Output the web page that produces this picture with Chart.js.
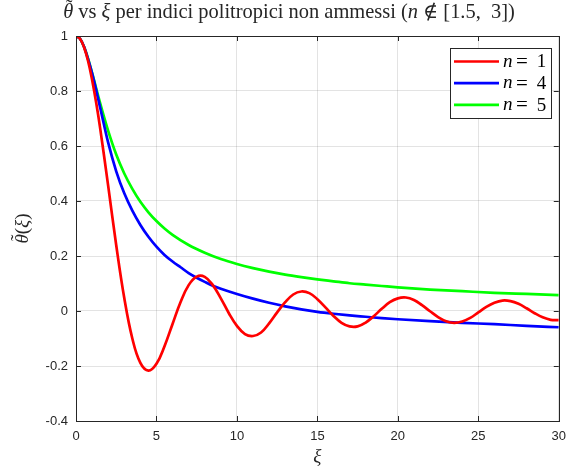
<!DOCTYPE html>
<html lang="it">
<head>
<meta charset="UTF-8">
<title>theta vs xi</title>
<script src="https://cdn.jsdelivr.net/npm/chart.js@4.4.0/dist/chart.umd.js"></script>
<style>
  html, body { margin: 0; padding: 0; background: #ffffff; }
  #wrap { width: 574px; height: 468px; position: relative; }
</style>
</head>
<body>
<div id="wrap"><canvas id="chart"></canvas></div>
<script>
// n = 1
const xi1 = [0, 0.25, 0.5, 0.75, 1, 1.25, 1.5, 2, 2.5, 3, 3.5, 4, 4.5, 5, 5.5, 6, 6.5, 7, 7.5, 8, 8.5, 9, 9.5,
  10, 10.5, 11, 11.5, 12, 12.5, 13, 13.5, 14, 14.5, 15, 15.5, 16, 16.5, 17, 17.5, 18, 18.5, 19, 19.5,
  20, 20.5, 21, 21.5, 22, 22.5, 23, 23.5, 24, 24.5, 25, 25.5, 26, 26.5, 27, 27.5, 28, 28.5, 29, 29.5, 30];
const theta1 = [1, 0.990, 0.959, 0.909, 0.841, 0.759, 0.665, 0.455, 0.239, 0.047, -0.100, -0.189, -0.217, -0.192, -0.128, -0.047, 0.033, 0.094, 0.125, 0.124, 0.094, 0.046, -0.008,
  -0.054, -0.084, -0.091, -0.078, -0.045, -0.005, 0.032, 0.060, 0.071, 0.065, 0.043, 0.013, -0.018, -0.043, -0.056, -0.056, -0.042, -0.019, 0.008, 0.032,
  0.046, 0.049, 0.040, 0.021, -0.001, -0.022, -0.037, -0.043, -0.038, -0.025, -0.005, 0.015, 0.030, 0.038, 0.036, 0.026, 0.010, -0.008, -0.023, -0.032, -0.033];

// n = 4
const xi4 = [0, 0.25, 0.5, 0.75, 1, 1.25, 1.5, 2, 2.5, 3, 3.5, 4, 4.5, 5, 5.5, 6, 6.5, 7, 7.5, 8, 8.5, 9, 10,
  11, 12, 13, 14, 15, 16, 17, 18, 19, 20, 22, 24, 26, 28, 30];
const theta4 = [1, 0.990, 0.961, 0.916, 0.864, 0.804, 0.740, 0.612, 0.508, 0.428, 0.365, 0.313, 0.270, 0.234, 0.204, 0.180, 0.159, 0.138, 0.121, 0.106, 0.092, 0.081, 0.062,
  0.045, 0.030, 0.017, 0.006, -0.003, -0.010, -0.016, -0.021, -0.026, -0.030, -0.037, -0.043, -0.048, -0.054, -0.059];

// n = 5
const xi5 = [0, 0.25, 0.5, 0.75, 1, 1.25, 1.5, 2, 2.5, 3, 3.5, 4, 4.5, 5, 5.5, 6, 7, 8, 9, 10,
  11, 12, 13, 14, 15, 16, 17, 18, 19, 20, 22, 24, 26, 28, 30];
const theta5 = [1, 0.990, 0.961, 0.918, 0.866, 0.811, 0.756, 0.655, 0.569, 0.5, 0.444, 0.397, 0.359, 0.327, 0.300, 0.277, 0.240, 0.212, 0.189, 0.171,
  0.156, 0.143, 0.132, 0.123, 0.115, 0.108, 0.101, 0.096, 0.091, 0.086, 0.078, 0.072, 0.066, 0.062, 0.058];

const seriesNames = ['1', '4', '5'];
const seriesColors = ['#ff0000', '#0000ff', '#00ff00'];
const xTicks = [0, 5, 10, 15, 20, 25, 30];
const yTicks = [-0.4, -0.2, 0, 0.2, 0.4, 0.6, 0.8, 1];

const axisColor = '#262626';
const gridColor = 'rgba(38,38,38,0.13)';
const serif = '"Liberation Serif", "DejaVu Serif", serif';

function toPoints(xs, ys) {
  return xs.map((x, i) => ({ x: x, y: ys[i] }));
}

// draws a list of [text, italic] pieces starting at x
function drawPieces(ctx, pieces, x, y, size) {
  pieces.forEach(p => {
    ctx.font = (p[1] ? 'italic ' : '') + size + 'px ' + serif;
    ctx.fillText(p[0], x, y);
    x += ctx.measureText(p[0]).width;
  });
  return x;
}

function piecesWidth(ctx, pieces, size) {
  let w = 0;
  pieces.forEach(p => {
    ctx.font = (p[1] ? 'italic ' : '') + size + 'px ' + serif;
    w += ctx.measureText(p[0]).width;
  });
  return w;
}

// theta with a tilde on top
function drawThetaTilde(ctx, x, y, size) {
  ctx.font = 'italic ' + size + 'px ' + serif;
  const w = ctx.measureText('\u03b8').width;
  ctx.fillText('\u03b8', x, y);
  ctx.font = size + 'px ' + serif;
  const tw = ctx.measureText('\u02dc').width;
  ctx.fillText('\u02dc', x + w / 2 - tw / 2 + 1, y - size * 0.22);
  return x + w;
}

const framePlugin = {
  id: 'frame',
  afterDraw(chart) {
    const ctx = chart.ctx;
    const a = chart.chartArea;
    const xs = chart.scales.x, ys = chart.scales.y;
    ctx.save();
    ctx.strokeStyle = axisColor;
    ctx.lineWidth = 1;
    ctx.strokeRect(Math.round(a.left) + 0.5, Math.round(a.top) + 0.5,
      Math.round(a.right - a.left), Math.round(a.bottom - a.top));
    ctx.beginPath();
    const tl = 5;
    xTicks.forEach(v => {
      const px = Math.round(xs.getPixelForValue(v)) + 0.5;
      ctx.moveTo(px, a.bottom); ctx.lineTo(px, a.bottom - tl);
      ctx.moveTo(px, a.top); ctx.lineTo(px, a.top + tl);
    });
    yTicks.forEach(v => {
      const py = Math.round(ys.getPixelForValue(v)) + 0.5;
      ctx.moveTo(a.left, py); ctx.lineTo(a.left + tl, py);
      ctx.moveTo(a.right, py); ctx.lineTo(a.right - tl, py);
    });
    ctx.stroke();

    // title
    ctx.fillStyle = axisColor;
    ctx.textBaseline = 'alphabetic';
    const rest = [[' vs ', false], ['\u03be', true], [' per indici politropici non ammessi (', false],
      ['n', true], [' \u2209 [1.5,  3])', false]];
    let size = 17;
    ctx.font = 'italic ' + size + 'px ' + serif;
    let w = ctx.measureText('\u03b8').width + piecesWidth(ctx, rest, size);
    size = Math.min(21, size * 452 / w);
    ctx.font = 'italic ' + size + 'px ' + serif;
    w = ctx.measureText('\u03b8').width + piecesWidth(ctx, rest, size);
    let tx = 289 - w / 2;
    tx = drawThetaTilde(ctx, tx, 18, size);
    drawPieces(ctx, rest, tx, 18, size);

    // x label
    ctx.font = 'italic 19px ' + serif;
    ctx.textAlign = 'center';
    ctx.fillText('\u03be', (a.left + a.right) / 2, 462);
    ctx.textAlign = 'left';

    // y label
    ctx.save();
    ctx.translate(28, (a.top + a.bottom) / 2);
    ctx.rotate(-Math.PI / 2);
    const yl = [['(', false], ['\u03be', true], [')', false]];
    ctx.font = 'italic 19px ' + serif;
    const yw = ctx.measureText('\u03b8').width + piecesWidth(ctx, yl, 19);
    let lx = drawThetaTilde(ctx, -yw / 2, 0, 19);
    drawPieces(ctx, yl, lx, 0, 19);
    ctx.restore();

    // legend
    const bx = 450.5, by = 48.5, bw = 101, bh = 70;
    ctx.fillStyle = '#ffffff';
    ctx.fillRect(bx, by, bw, bh);
    ctx.strokeStyle = axisColor;
    ctx.strokeRect(bx, by, bw, bh);
    seriesNames.forEach((name, i) => {
      const ly = 61.5 + i * 21.7;
      ctx.strokeStyle = seriesColors[i];
      ctx.lineWidth = 2.7;
      ctx.beginPath();
      ctx.moveTo(454, ly); ctx.lineTo(499, ly);
      ctx.stroke();
      ctx.fillStyle = '#000000';
      ctx.textBaseline = 'middle';
      ctx.textAlign = 'left';
      ctx.font = 'italic 19px ' + serif;
      ctx.fillText('n', 503, ly);
      ctx.textAlign = 'center';
      ctx.font = '21px ' + serif;
      ctx.fillText('=', 522, ly + 1);
      ctx.font = '19px ' + serif;
      ctx.fillText(name, 541.5, ly + 1);
      ctx.textAlign = 'left';
    });
    ctx.restore();
  }
};

new Chart(document.getElementById('chart'), {
  type: 'line',
  data: {
    datasets: [
      { label: 'n = ' + seriesNames[0], data: toPoints(xi1, theta1), borderColor: seriesColors[0], tension: 0.4 },
      { label: 'n = ' + seriesNames[1], data: toPoints(xi4, theta4), borderColor: seriesColors[1], cubicInterpolationMode: 'monotone' },
      { label: 'n = ' + seriesNames[2], data: toPoints(xi5, theta5), borderColor: seriesColors[2], cubicInterpolationMode: 'monotone' }
    ].map(d => Object.assign(d, { borderWidth: 2.7, pointRadius: 0, fill: false }))
  },
  options: {
    responsive: true,
    maintainAspectRatio: false,
    animation: false,
    layout: { padding: { top: 36, right: 11, left: 0, bottom: 0 } },
    plugins: { legend: { display: false }, tooltip: { enabled: false } },
    scales: {
      x: {
        type: 'linear',
        min: 0, max: 30,
        afterFit(s) { s.height = 47; },
        afterBuildTicks(s) { s.ticks = xTicks.map(v => ({ value: v })); },
        ticks: { color: axisColor, padding: 8, font: { family: '"Liberation Sans", Arial, sans-serif', size: 13 }, maxRotation: 0 },
        grid: { color: gridColor, drawTicks: false },
        border: { display: false }
      },
      y: {
        min: -0.4, max: 1,
        afterFit(s) { s.width = 76; },
        afterBuildTicks(s) { s.ticks = yTicks.map(v => ({ value: v })); },
        ticks: {
          color: axisColor, padding: 8,
          font: { family: '"Liberation Sans", Arial, sans-serif', size: 13 },
          callback: v => String(Number(v.toFixed(1)))
        },
        grid: { color: gridColor, drawTicks: false },
        border: { display: false }
      }
    }
  },
  plugins: [framePlugin]
});
</script>
</body>
</html>
